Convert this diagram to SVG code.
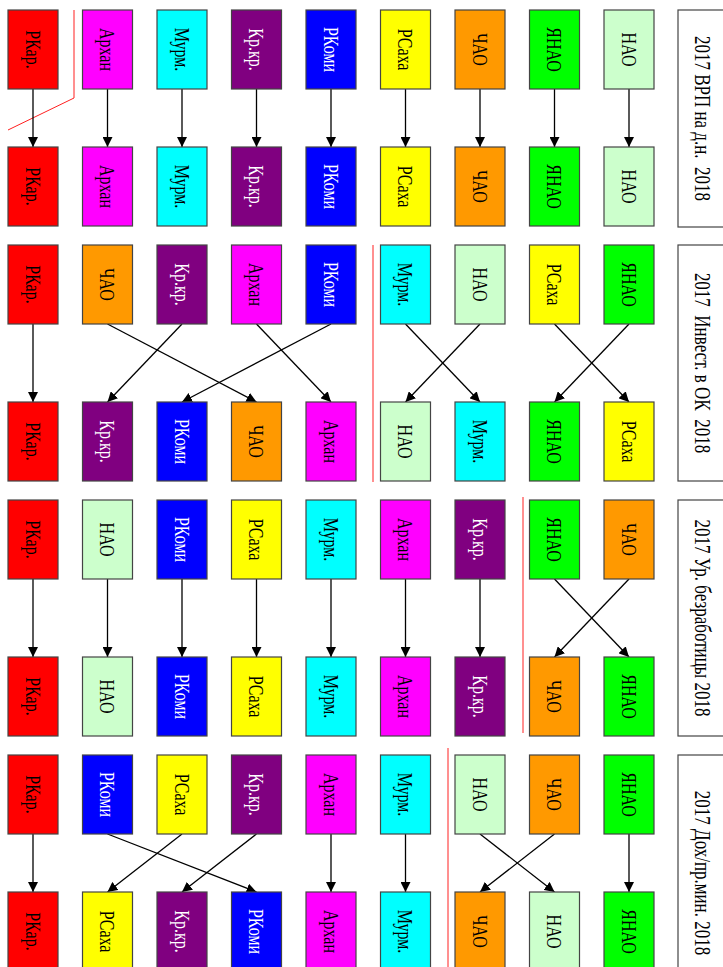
<svg xmlns="http://www.w3.org/2000/svg" width="723" height="967" viewBox="0 0 723 967">
<defs>
<marker id="ah" markerWidth="10" markerHeight="10" refX="10" refY="5" orient="auto" markerUnits="userSpaceOnUse"><path d="M0,0 L10,5 L0,10 z" fill="#000"/></marker>
<style>
.b{stroke:#444;stroke-width:1.2}
.t{font-family:"Liberation Serif","Times New Roman",serif;font-size:16px;text-anchor:middle;fill:#000}
.w{fill:#fff}
.ti{font-family:"Liberation Serif","Times New Roman",serif;font-size:17px;text-anchor:middle;fill:#000}
.hb{fill:#fff;stroke:#444;stroke-width:1.2}
.nao{fill:#ccffcc}.ynao{fill:#00ff00}.chao{fill:#ff9900}.rsaha{fill:#ffff00}.rkomi{fill:#0000ff}.krkr{fill:#800080}.murm{fill:#00ffff}.arh{fill:#ff00ff}.rkar{fill:#ff0000}
.e{stroke:#000;stroke-width:1.3;fill:none;marker-end:url(#ah)}
.r{stroke:#ff2020;stroke-width:1;fill:none}
</style>
</defs>

<g id="titles">
<g id="title1"><rect class="hb" x="678" y="10" width="50" height="217"/><text class="ti" xml:space="preserve" transform="translate(703,118.5) rotate(90) scale(1,1.3)" y="5.8">2017 ВРП на д.н.  2018</text></g>
<g id="title2"><rect class="hb" x="678" y="245" width="50" height="236"/><text class="ti" xml:space="preserve" transform="translate(703,363) rotate(90) scale(1,1.3)" y="5.8">2017  Инвест. в ОК  2018</text></g>
<g id="title3"><rect class="hb" x="678" y="500" width="50" height="236"/><text class="ti" xml:space="preserve" transform="translate(703,618) rotate(90) scale(1,1.3)" y="5.8">2017 Ур. безработицы 2018</text></g>
<g id="title4"><rect class="hb" x="678" y="755" width="50" height="236"/><text class="ti" xml:space="preserve" transform="translate(703,873) rotate(90) scale(1,1.3)" y="5.8">2017 Дох/пр.мин. 2018</text></g>
</g>

<g id="separators">
<polyline class="r" points="74,10 74,98 8,130"/>
<line class="r" x1="373" y1="245" x2="373" y2="482"/>
<line class="r" x1="523" y1="497" x2="523" y2="733"/>
<line class="r" x1="448" y1="748" x2="448" y2="967"/>
</g>

<g id="connectors">
<!-- section 1 -->
<line class="e" x1="629" y1="89" x2="629" y2="147"/>
<line class="e" x1="554.5" y1="89" x2="554.5" y2="147"/>
<line class="e" x1="480" y1="89" x2="480" y2="147"/>
<line class="e" x1="405.5" y1="89" x2="405.5" y2="147"/>
<line class="e" x1="331" y1="89" x2="331" y2="147"/>
<line class="e" x1="256.5" y1="89" x2="256.5" y2="147"/>
<line class="e" x1="182" y1="89" x2="182" y2="147"/>
<line class="e" x1="107.5" y1="89" x2="107.5" y2="147"/>
<line class="e" x1="33" y1="89" x2="33" y2="147"/>
<!-- section 2 -->
<line class="e" x1="629" y1="324" x2="554.5" y2="402"/>
<line class="e" x1="554.5" y1="324" x2="629" y2="402"/>
<line class="e" x1="480" y1="324" x2="405.5" y2="402"/>
<line class="e" x1="405.5" y1="324" x2="480" y2="402"/>
<line class="e" x1="331" y1="324" x2="182" y2="402"/>
<line class="e" x1="256.5" y1="324" x2="331" y2="402"/>
<line class="e" x1="182" y1="324" x2="107.5" y2="402"/>
<line class="e" x1="107.5" y1="324" x2="256.5" y2="402"/>
<line class="e" x1="33" y1="324" x2="33" y2="402"/>
<!-- section 3 -->
<line class="e" x1="629" y1="579" x2="554.5" y2="657"/>
<line class="e" x1="554.5" y1="579" x2="629" y2="657"/>
<line class="e" x1="480" y1="579" x2="480" y2="657"/>
<line class="e" x1="405.5" y1="579" x2="405.5" y2="657"/>
<line class="e" x1="331" y1="579" x2="331" y2="657"/>
<line class="e" x1="256.5" y1="579" x2="256.5" y2="657"/>
<line class="e" x1="182" y1="579" x2="182" y2="657"/>
<line class="e" x1="107.5" y1="579" x2="107.5" y2="657"/>
<line class="e" x1="33" y1="579" x2="33" y2="657"/>
<!-- section 4 -->
<line class="e" x1="629" y1="834" x2="629" y2="892"/>
<line class="e" x1="554.5" y1="834" x2="480" y2="892"/>
<line class="e" x1="480" y1="834" x2="554.5" y2="892"/>
<line class="e" x1="405.5" y1="834" x2="405.5" y2="892"/>
<line class="e" x1="331" y1="834" x2="331" y2="892"/>
<line class="e" x1="256.5" y1="834" x2="182" y2="892"/>
<line class="e" x1="182" y1="834" x2="107.5" y2="892"/>
<line class="e" x1="107.5" y1="834" x2="256.5" y2="892"/>
<line class="e" x1="33" y1="834" x2="33" y2="892"/>
</g>

<!-- Section 1 top -->
<g id="s1t_nao"><rect class="b nao" x="604" y="10" width="50" height="79"/><text class="t" transform="translate(629,49.5) rotate(90) scale(1,1.3)" y="5.5">НАО</text></g>
<g id="s1t_ynao"><rect class="b ynao" x="529.5" y="10" width="50" height="79"/><text class="t" transform="translate(554.5,49.5) rotate(90) scale(1,1.3)" y="5.5">ЯНАО</text></g>
<g id="s1t_chao"><rect class="b chao" x="455" y="10" width="50" height="79"/><text class="t" transform="translate(480,49.5) rotate(90) scale(1,1.3)" y="5.5">ЧАО</text></g>
<g id="s1t_rsaha"><rect class="b rsaha" x="380.5" y="10" width="50" height="79"/><text class="t" transform="translate(405.5,49.5) rotate(90) scale(1,1.3)" y="5.5">РСаха</text></g>
<g id="s1t_rkomi"><rect class="b rkomi" x="306" y="10" width="50" height="79"/><text class="t w" transform="translate(331,49.5) rotate(90) scale(1,1.3)" y="5.5">РКоми</text></g>
<g id="s1t_krkr"><rect class="b krkr" x="231.5" y="10" width="50" height="79"/><text class="t w" transform="translate(256.5,49.5) rotate(90) scale(1,1.3)" y="5.5">Кр.кр.</text></g>
<g id="s1t_murm"><rect class="b murm" x="157" y="10" width="50" height="79"/><text class="t" transform="translate(182,49.5) rotate(90) scale(1,1.3)" y="5.5">Мурм.</text></g>
<g id="s1t_arh"><rect class="b arh" x="82.5" y="10" width="50" height="79"/><text class="t" transform="translate(107.5,49.5) rotate(90) scale(1,1.3)" y="5.5">Архан</text></g>
<g id="s1t_rkar"><rect class="b rkar" x="8" y="10" width="50" height="79"/><text class="t" transform="translate(33,49.5) rotate(90) scale(1,1.3)" y="5.5">РКар.</text></g>
<!-- Section 1 bottom -->
<g id="s1b_nao"><rect class="b nao" x="604" y="147" width="50" height="79"/><text class="t" transform="translate(629,186.5) rotate(90) scale(1,1.3)" y="5.5">НАО</text></g>
<g id="s1b_ynao"><rect class="b ynao" x="529.5" y="147" width="50" height="79"/><text class="t" transform="translate(554.5,186.5) rotate(90) scale(1,1.3)" y="5.5">ЯНАО</text></g>
<g id="s1b_chao"><rect class="b chao" x="455" y="147" width="50" height="79"/><text class="t" transform="translate(480,186.5) rotate(90) scale(1,1.3)" y="5.5">ЧАО</text></g>
<g id="s1b_rsaha"><rect class="b rsaha" x="380.5" y="147" width="50" height="79"/><text class="t" transform="translate(405.5,186.5) rotate(90) scale(1,1.3)" y="5.5">РСаха</text></g>
<g id="s1b_rkomi"><rect class="b rkomi" x="306" y="147" width="50" height="79"/><text class="t w" transform="translate(331,186.5) rotate(90) scale(1,1.3)" y="5.5">РКоми</text></g>
<g id="s1b_krkr"><rect class="b krkr" x="231.5" y="147" width="50" height="79"/><text class="t w" transform="translate(256.5,186.5) rotate(90) scale(1,1.3)" y="5.5">Кр.кр.</text></g>
<g id="s1b_murm"><rect class="b murm" x="157" y="147" width="50" height="79"/><text class="t" transform="translate(182,186.5) rotate(90) scale(1,1.3)" y="5.5">Мурм.</text></g>
<g id="s1b_arh"><rect class="b arh" x="82.5" y="147" width="50" height="79"/><text class="t" transform="translate(107.5,186.5) rotate(90) scale(1,1.3)" y="5.5">Архан</text></g>
<g id="s1b_rkar"><rect class="b rkar" x="8" y="147" width="50" height="79"/><text class="t" transform="translate(33,186.5) rotate(90) scale(1,1.3)" y="5.5">РКар.</text></g>

<!-- Section 2 top -->
<g id="s2t_ynao"><rect class="b ynao" x="604" y="245" width="50" height="79"/><text class="t" transform="translate(629,284.5) rotate(90) scale(1,1.3)" y="5.5">ЯНАО</text></g>
<g id="s2t_rsaha"><rect class="b rsaha" x="529.5" y="245" width="50" height="79"/><text class="t" transform="translate(554.5,284.5) rotate(90) scale(1,1.3)" y="5.5">РСаха</text></g>
<g id="s2t_nao"><rect class="b nao" x="455" y="245" width="50" height="79"/><text class="t" transform="translate(480,284.5) rotate(90) scale(1,1.3)" y="5.5">НАО</text></g>
<g id="s2t_murm"><rect class="b murm" x="380.5" y="245" width="50" height="79"/><text class="t" transform="translate(405.5,284.5) rotate(90) scale(1,1.3)" y="5.5">Мурм.</text></g>
<g id="s2t_rkomi"><rect class="b rkomi" x="306" y="245" width="50" height="79"/><text class="t w" transform="translate(331,284.5) rotate(90) scale(1,1.3)" y="5.5">РКоми</text></g>
<g id="s2t_arh"><rect class="b arh" x="231.5" y="245" width="50" height="79"/><text class="t" transform="translate(256.5,284.5) rotate(90) scale(1,1.3)" y="5.5">Архан</text></g>
<g id="s2t_krkr"><rect class="b krkr" x="157" y="245" width="50" height="79"/><text class="t w" transform="translate(182,284.5) rotate(90) scale(1,1.3)" y="5.5">Кр.кр.</text></g>
<g id="s2t_chao"><rect class="b chao" x="82.5" y="245" width="50" height="79"/><text class="t" transform="translate(107.5,284.5) rotate(90) scale(1,1.3)" y="5.5">ЧАО</text></g>
<g id="s2t_rkar"><rect class="b rkar" x="8" y="245" width="50" height="79"/><text class="t" transform="translate(33,284.5) rotate(90) scale(1,1.3)" y="5.5">РКар.</text></g>
<!-- Section 2 bottom -->
<g id="s2b_rsaha"><rect class="b rsaha" x="604" y="402" width="50" height="79"/><text class="t" transform="translate(629,441.5) rotate(90) scale(1,1.3)" y="5.5">РСаха</text></g>
<g id="s2b_ynao"><rect class="b ynao" x="529.5" y="402" width="50" height="79"/><text class="t" transform="translate(554.5,441.5) rotate(90) scale(1,1.3)" y="5.5">ЯНАО</text></g>
<g id="s2b_murm"><rect class="b murm" x="455" y="402" width="50" height="79"/><text class="t" transform="translate(480,441.5) rotate(90) scale(1,1.3)" y="5.5">Мурм.</text></g>
<g id="s2b_nao"><rect class="b nao" x="380.5" y="402" width="50" height="79"/><text class="t" transform="translate(405.5,441.5) rotate(90) scale(1,1.3)" y="5.5">НАО</text></g>
<g id="s2b_arh"><rect class="b arh" x="306" y="402" width="50" height="79"/><text class="t" transform="translate(331,441.5) rotate(90) scale(1,1.3)" y="5.5">Архан</text></g>
<g id="s2b_chao"><rect class="b chao" x="231.5" y="402" width="50" height="79"/><text class="t" transform="translate(256.5,441.5) rotate(90) scale(1,1.3)" y="5.5">ЧАО</text></g>
<g id="s2b_rkomi"><rect class="b rkomi" x="157" y="402" width="50" height="79"/><text class="t w" transform="translate(182,441.5) rotate(90) scale(1,1.3)" y="5.5">РКоми</text></g>
<g id="s2b_krkr"><rect class="b krkr" x="82.5" y="402" width="50" height="79"/><text class="t w" transform="translate(107.5,441.5) rotate(90) scale(1,1.3)" y="5.5">Кр.кр.</text></g>
<g id="s2b_rkar"><rect class="b rkar" x="8" y="402" width="50" height="79"/><text class="t" transform="translate(33,441.5) rotate(90) scale(1,1.3)" y="5.5">РКар.</text></g>

<!-- Section 3 top -->
<g id="s3t_chao"><rect class="b chao" x="604" y="500" width="50" height="79"/><text class="t" transform="translate(629,539.5) rotate(90) scale(1,1.3)" y="5.5">ЧАО</text></g>
<g id="s3t_ynao"><rect class="b ynao" x="529.5" y="500" width="50" height="79"/><text class="t" transform="translate(554.5,539.5) rotate(90) scale(1,1.3)" y="5.5">ЯНАО</text></g>
<g id="s3t_krkr"><rect class="b krkr" x="455" y="500" width="50" height="79"/><text class="t w" transform="translate(480,539.5) rotate(90) scale(1,1.3)" y="5.5">Кр.кр.</text></g>
<g id="s3t_arh"><rect class="b arh" x="380.5" y="500" width="50" height="79"/><text class="t" transform="translate(405.5,539.5) rotate(90) scale(1,1.3)" y="5.5">Архан</text></g>
<g id="s3t_murm"><rect class="b murm" x="306" y="500" width="50" height="79"/><text class="t" transform="translate(331,539.5) rotate(90) scale(1,1.3)" y="5.5">Мурм.</text></g>
<g id="s3t_rsaha"><rect class="b rsaha" x="231.5" y="500" width="50" height="79"/><text class="t" transform="translate(256.5,539.5) rotate(90) scale(1,1.3)" y="5.5">РСаха</text></g>
<g id="s3t_rkomi"><rect class="b rkomi" x="157" y="500" width="50" height="79"/><text class="t w" transform="translate(182,539.5) rotate(90) scale(1,1.3)" y="5.5">РКоми</text></g>
<g id="s3t_nao"><rect class="b nao" x="82.5" y="500" width="50" height="79"/><text class="t" transform="translate(107.5,539.5) rotate(90) scale(1,1.3)" y="5.5">НАО</text></g>
<g id="s3t_rkar"><rect class="b rkar" x="8" y="500" width="50" height="79"/><text class="t" transform="translate(33,539.5) rotate(90) scale(1,1.3)" y="5.5">РКар.</text></g>
<!-- Section 3 bottom -->
<g id="s3b_ynao"><rect class="b ynao" x="604" y="657" width="50" height="79"/><text class="t" transform="translate(629,696.5) rotate(90) scale(1,1.3)" y="5.5">ЯНАО</text></g>
<g id="s3b_chao"><rect class="b chao" x="529.5" y="657" width="50" height="79"/><text class="t" transform="translate(554.5,696.5) rotate(90) scale(1,1.3)" y="5.5">ЧАО</text></g>
<g id="s3b_krkr"><rect class="b krkr" x="455" y="657" width="50" height="79"/><text class="t w" transform="translate(480,696.5) rotate(90) scale(1,1.3)" y="5.5">Кр.кр.</text></g>
<g id="s3b_arh"><rect class="b arh" x="380.5" y="657" width="50" height="79"/><text class="t" transform="translate(405.5,696.5) rotate(90) scale(1,1.3)" y="5.5">Архан</text></g>
<g id="s3b_murm"><rect class="b murm" x="306" y="657" width="50" height="79"/><text class="t" transform="translate(331,696.5) rotate(90) scale(1,1.3)" y="5.5">Мурм.</text></g>
<g id="s3b_rsaha"><rect class="b rsaha" x="231.5" y="657" width="50" height="79"/><text class="t" transform="translate(256.5,696.5) rotate(90) scale(1,1.3)" y="5.5">РСаха</text></g>
<g id="s3b_rkomi"><rect class="b rkomi" x="157" y="657" width="50" height="79"/><text class="t w" transform="translate(182,696.5) rotate(90) scale(1,1.3)" y="5.5">РКоми</text></g>
<g id="s3b_nao"><rect class="b nao" x="82.5" y="657" width="50" height="79"/><text class="t" transform="translate(107.5,696.5) rotate(90) scale(1,1.3)" y="5.5">НАО</text></g>
<g id="s3b_rkar"><rect class="b rkar" x="8" y="657" width="50" height="79"/><text class="t" transform="translate(33,696.5) rotate(90) scale(1,1.3)" y="5.5">РКар.</text></g>

<!-- Section 4 top -->
<g id="s4t_ynao"><rect class="b ynao" x="604" y="755" width="50" height="79"/><text class="t" transform="translate(629,794.5) rotate(90) scale(1,1.3)" y="5.5">ЯНАО</text></g>
<g id="s4t_chao"><rect class="b chao" x="529.5" y="755" width="50" height="79"/><text class="t" transform="translate(554.5,794.5) rotate(90) scale(1,1.3)" y="5.5">ЧАО</text></g>
<g id="s4t_nao"><rect class="b nao" x="455" y="755" width="50" height="79"/><text class="t" transform="translate(480,794.5) rotate(90) scale(1,1.3)" y="5.5">НАО</text></g>
<g id="s4t_murm"><rect class="b murm" x="380.5" y="755" width="50" height="79"/><text class="t" transform="translate(405.5,794.5) rotate(90) scale(1,1.3)" y="5.5">Мурм.</text></g>
<g id="s4t_arh"><rect class="b arh" x="306" y="755" width="50" height="79"/><text class="t" transform="translate(331,794.5) rotate(90) scale(1,1.3)" y="5.5">Архан</text></g>
<g id="s4t_krkr"><rect class="b krkr" x="231.5" y="755" width="50" height="79"/><text class="t w" transform="translate(256.5,794.5) rotate(90) scale(1,1.3)" y="5.5">Кр.кр.</text></g>
<g id="s4t_rsaha"><rect class="b rsaha" x="157" y="755" width="50" height="79"/><text class="t" transform="translate(182,794.5) rotate(90) scale(1,1.3)" y="5.5">РСаха</text></g>
<g id="s4t_rkomi"><rect class="b rkomi" x="82.5" y="755" width="50" height="79"/><text class="t w" transform="translate(107.5,794.5) rotate(90) scale(1,1.3)" y="5.5">РКоми</text></g>
<g id="s4t_rkar"><rect class="b rkar" x="8" y="755" width="50" height="79"/><text class="t" transform="translate(33,794.5) rotate(90) scale(1,1.3)" y="5.5">РКар.</text></g>
<!-- Section 4 bottom -->
<g id="s4b_ynao"><rect class="b ynao" x="604" y="892" width="50" height="79"/><text class="t" transform="translate(629,931.5) rotate(90) scale(1,1.3)" y="5.5">ЯНАО</text></g>
<g id="s4b_nao"><rect class="b nao" x="529.5" y="892" width="50" height="79"/><text class="t" transform="translate(554.5,931.5) rotate(90) scale(1,1.3)" y="5.5">НАО</text></g>
<g id="s4b_chao"><rect class="b chao" x="455" y="892" width="50" height="79"/><text class="t" transform="translate(480,931.5) rotate(90) scale(1,1.3)" y="5.5">ЧАО</text></g>
<g id="s4b_murm"><rect class="b murm" x="380.5" y="892" width="50" height="79"/><text class="t" transform="translate(405.5,931.5) rotate(90) scale(1,1.3)" y="5.5">Мурм.</text></g>
<g id="s4b_arh"><rect class="b arh" x="306" y="892" width="50" height="79"/><text class="t" transform="translate(331,931.5) rotate(90) scale(1,1.3)" y="5.5">Архан</text></g>
<g id="s4b_rkomi"><rect class="b rkomi" x="231.5" y="892" width="50" height="79"/><text class="t w" transform="translate(256.5,931.5) rotate(90) scale(1,1.3)" y="5.5">РКоми</text></g>
<g id="s4b_krkr"><rect class="b krkr" x="157" y="892" width="50" height="79"/><text class="t w" transform="translate(182,931.5) rotate(90) scale(1,1.3)" y="5.5">Кр.кр.</text></g>
<g id="s4b_rsaha"><rect class="b rsaha" x="82.5" y="892" width="50" height="79"/><text class="t" transform="translate(107.5,931.5) rotate(90) scale(1,1.3)" y="5.5">РСаха</text></g>
<g id="s4b_rkar"><rect class="b rkar" x="8" y="892" width="50" height="79"/><text class="t" transform="translate(33,931.5) rotate(90) scale(1,1.3)" y="5.5">РКар.</text></g>
</svg>
